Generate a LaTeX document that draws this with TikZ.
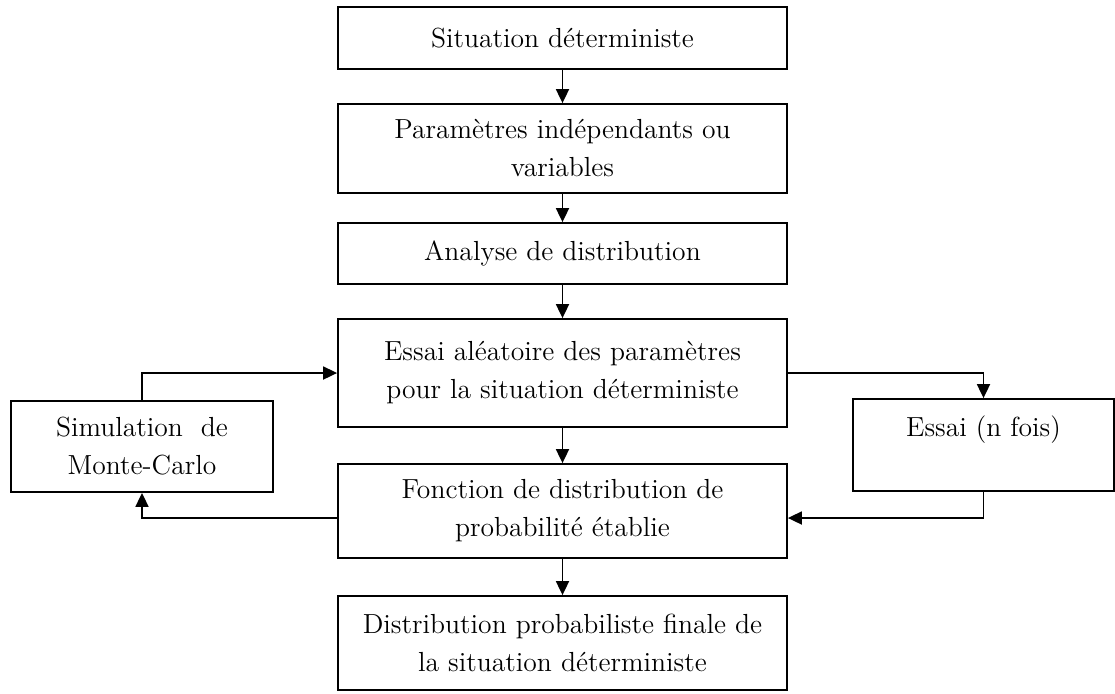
\documentclass[tikz,border=0pt]{standalone}
\usetikzlibrary{arrows.meta}
\begin{document}
\begin{tikzpicture}[x=0.5pt, y=-0.5pt, >={Triangle[length=7pt, width=6.5pt]},
    boite/.style={draw, line width=0.9pt, align=center, inner sep=0pt,
        font=\fontsize{13.8}{19}\selectfont},
    fleche/.style={->, line width=0.9pt}]
    % Cadre de la figure
    \useasboundingbox (0,0) rectangle (1115,693);

    % Colonne centrale
    \node[boite, minimum width=224.5pt, minimum height=31pt] (sit) at (562.5,38) {Situation déterministe};
    \node[boite, minimum width=224.5pt, minimum height=44.5pt] (param) at (562.5,148.5) {Paramètres indépendants ou\\variables};
    \node[boite, minimum width=224.5pt, minimum height=30.5pt] (analyse) at (562.5,253.5) {Analyse de distribution};
    \node[boite, minimum width=224.5pt, minimum height=54pt] (essai) at (562.5,373) {Essai aléatoire des paramètres\\pour la situation déterministe};
    \node[boite, minimum width=224.5pt, minimum height=47pt] (fonction) at (562.5,511) {Fonction de distribution de\\probabilité établie};
    \node[boite, minimum width=224.5pt, minimum height=47pt] (finale) at (562.5,643) {Distribution probabiliste finale de\\la situation déterministe};

    % Boites laterales
    \node[boite, minimum width=131pt, minimum height=45.5pt] (monte) at (142,446.5) {Simulation~ de\\Monte-Carlo};
    \node[boite, minimum width=130.5pt, minimum height=46pt] (nfois) at (983.5,445) {Essai (n fois)\\\mbox{}};

    % Fleches verticales
    \draw[fleche] (sit) -- (param);
    \draw[fleche] (param) -- (analyse);
    \draw[fleche] (analyse) -- (essai);
    \draw[fleche] (essai) -- (fonction);
    \draw[fleche] (fonction) -- (finale);

    % Boucle Monte-Carlo
    \draw[fleche] (monte.north) |- (essai.west);
    \draw[fleche] ([yshift=-3.5pt]fonction.west) -| (monte.south);

    % Boucle des essais
    \draw[fleche] (essai.east) -| (nfois.north);
    \draw[fleche] (nfois.south) |- ([yshift=-3.5pt]fonction.east);
\end{tikzpicture}
\end{document}
